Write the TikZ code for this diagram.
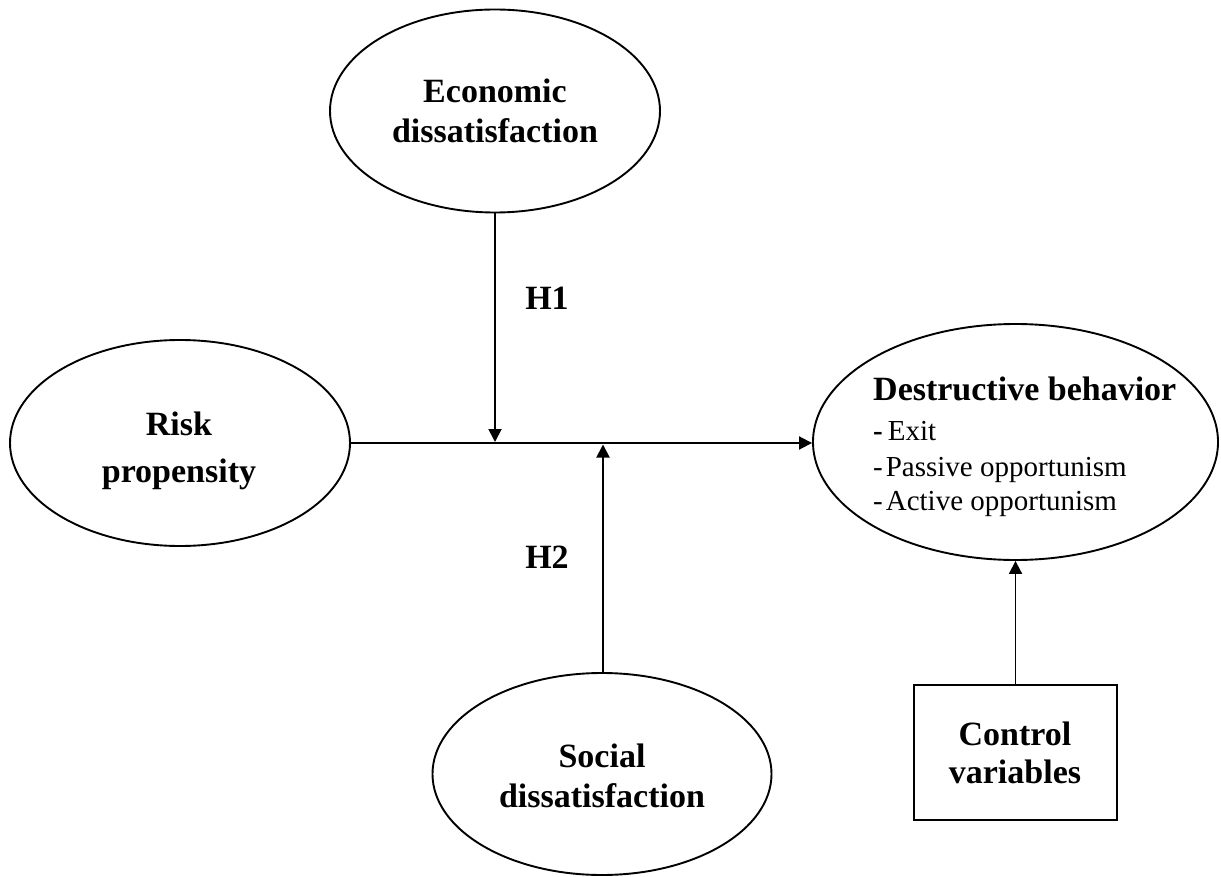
\documentclass[tikz,border=0pt]{standalone}
\usepackage{fontspec}
\setmainfont{Liberation Serif}
\usetikzlibrary{shapes.geometric,arrows.meta}
\tikzset{
  oval/.style={draw, ellipse, line width=1.9pt, inner sep=0pt},
  boxnode/.style={draw, rectangle, line width=1.9pt, inner sep=0pt},
  bigtxt/.style={font=\fontsize{34}{40}\selectfont\bfseries, inner sep=0pt, anchor=base},
  itemtxt/.style={font=\fontsize{29}{34}\selectfont, inner sep=0pt, anchor=base west},
  conn/.style={line width=1.9pt, -{Triangle[length=13pt,width=13pt]}}
}
\begin{document}
\begin{tikzpicture}[x=1pt,y=-1pt]
\useasboundingbox (0,0) rectangle (1221,877);
% shapes
\node[oval, minimum width=330pt, minimum height=203pt] (econ) at (495,111) {};
\node[oval, minimum width=340pt, minimum height=206pt] (risk) at (180,443) {};
\node[oval, minimum width=405pt, minimum height=236pt] (dest) at (1015.5,442) {};
\node[oval, minimum width=339pt, minimum height=202pt] (soc) at (602,774) {};
\node[boxnode, minimum width=203pt, minimum height=135pt] (ctrl) at (1015.5,752.5) {};
% texts
\node[bigtxt] (econA) at (495,103) {Economic};
\node[bigtxt] (econB) at (495,143) {dissatisfaction};
\node[bigtxt] (riskA) at (179,435) {Risk};
\node[bigtxt] (riskB) at (179,482) {propensity};
\node[bigtxt] (socA) at (602,767) {Social};
\node[bigtxt] (socB) at (602,807) {dissatisfaction};
\node[bigtxt] (ctrlA) at (1015,745) {Control};
\node[bigtxt] (ctrlB) at (1015,783) {variables};
\node[bigtxt, anchor=base west] (destA) at (873,400) {Destructive behavior};
\node[itemtxt] (destB) at (873,440) {{\bfseries -}\hspace{5pt}Exit};
\node[itemtxt] (destC) at (873,476) {-\hspace{3pt}Passive opportunism};
\node[itemtxt] (destD) at (873,510) {-\hspace{3pt}Active opportunism};
\node[bigtxt] (h1) at (547,310) {H1};
\node[bigtxt] (h2) at (547,568) {H2};
% connectors
\coordinate (meet1) at (econ.south |- risk.east);
\coordinate (meet2) at (603,443);
\coordinate (soctop) at (603,673);
\draw[conn] (risk.east) -- (risk.east -| dest.west);
\draw[conn, shorten >=1pt] (econ.south) -- (meet1);
\draw[conn, shorten >=1.5pt] (soctop) -- (meet2);
\draw[conn] (ctrl.north) -- (dest.south);
\end{tikzpicture}
\end{document}
